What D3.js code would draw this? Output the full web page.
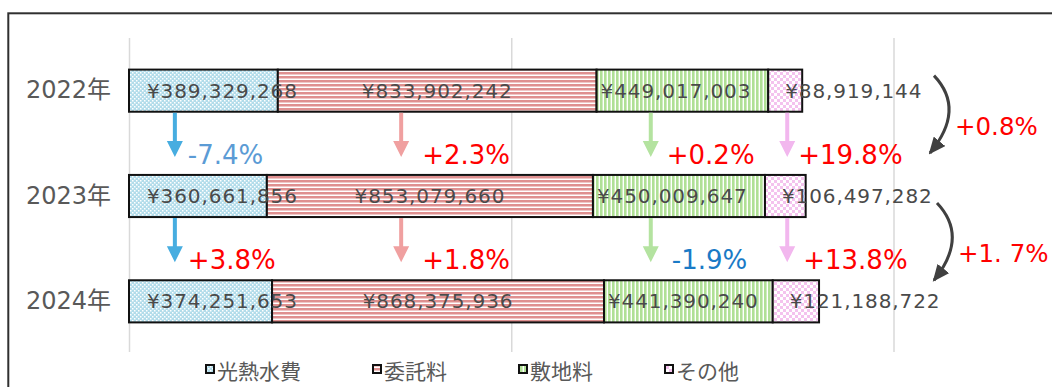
<!DOCTYPE html>
<html>
<head>
<meta charset="utf-8">
<script src="https://cdn.jsdelivr.net/npm/d3@7"></script>
<style>
  body { margin: 0; background: #fff; }
  svg { display: block; }
  text { font-family: "DejaVu Sans", "Noto Sans CJK JP", sans-serif; }
</style>
</head>
<body>
<script>
// Annual cost breakdown (yen), one stacked bar per year
const years = ["2022年", "2023年", "2024年"];
const seriesNames = ["光熱水費", "委託料", "敷地料", "その他"];
const utilities  = [389329268, 360661856, 374251653];
const commission = [833902242, 853079660, 868375936];
const siteRent   = [449017003, 450009647, 441390240];
const other      = [88919144, 106497282, 121188722];
const xTicks = [0, 1e9, 2e9];

// Year-over-year change per item (rows: 2022→2023, 2023→2024)
const itemChange = [
  ["-7.4%", "+2.3%", "+0.2%", "+19.8%"],
  ["+3.8%", "+1.8%", "-1.9%", "+13.8%"]
];
// Year-over-year change of the total
const totalChange = ["+0.8%", "+1. 7%"];

const W = 1052, H = 387;
const svg = d3.select("body").append("svg").attr("width", W).attr("height", H);

// ---- fill patterns ----
const defs = svg.append("defs");
const pat = (id, w, h) => defs.append("pattern").attr("id", id)
  .attr("patternUnits", "userSpaceOnUse").attr("width", w).attr("height", h);

const pBlue = pat("pat0", 4, 4);
pBlue.append("rect").attr("width", 4).attr("height", 4).attr("fill", "#b2dcea");
pBlue.append("rect").attr("x", 0).attr("y", 0).attr("width", 1.5).attr("height", 1.5).attr("fill", "#ffffff");
pBlue.append("rect").attr("x", 2).attr("y", 2).attr("width", 1.5).attr("height", 1.5).attr("fill", "#ffffff");

const pRed = pat("pat1", 4, 4);
pRed.append("rect").attr("width", 4).attr("height", 4).attr("fill", "#ffffff");
pRed.append("rect").attr("y", 0).attr("width", 4).attr("height", 2.5).attr("fill", "#df9090");

const pGreen = pat("pat2", 4, 4);
pGreen.append("rect").attr("width", 4).attr("height", 4).attr("fill", "#ffffff");
pGreen.append("rect").attr("x", 0).attr("width", 2.6).attr("height", 4).attr("fill", "#b0e096");

const pPink = pat("pat3", 6, 6);
pPink.append("rect").attr("width", 6).attr("height", 6).attr("fill", "#ffffff");
pPink.append("rect").attr("x", 0).attr("y", 0).attr("width", 3).attr("height", 3).attr("fill", "#f4c3ee");
pPink.append("rect").attr("x", 3).attr("y", 3).attr("width", 3).attr("height", 3).attr("fill", "#f4c3ee");

const fillOf = d3.scaleOrdinal().domain(seriesNames).range(["url(#pat0)", "url(#pat1)", "url(#pat2)", "url(#pat3)"]);
const arrowColor = d3.scaleOrdinal().domain(seriesNames).range(["#47ade0", "#f0a0a0", "#b4e3a0", "#f2b7ee"]);

// curved-arrow head
defs.append("marker").attr("id", "head")
  .attr("markerUnits", "userSpaceOnUse")
  .attr("viewBox", "0 0 17 15").attr("refX", 15).attr("refY", 7.5)
  .attr("markerWidth", 17).attr("markerHeight", 15)
  .attr("orient", "auto")
  .append("path").attr("d", "M0,0 L17,7.5 L0,15 Z").attr("fill", "#404040");

// ---- chart frame ----
svg.append("rect").attr("x", 8.3).attr("y", 13.3).attr("width", 1100).attr("height", 420)
  .attr("fill", "none").attr("stroke", "#303030").attr("stroke-width", 2);

// ---- scales ----
const x = d3.scaleLinear().domain([0, 2e9]).range([129, 893.5]);
const y = d3.scaleBand().domain(years).range([38, 354]).paddingInner(0.6).paddingOuter(0.3);

// vertical gridlines
const grid = svg.append("g").attr("transform", "translate(0,352)")
  .call(d3.axisTop(x).tickValues(xTicks).tickSize(314).tickFormat(""));
grid.select(".domain").remove();
grid.selectAll(".tick line").attr("stroke", "#d9d9d9").attr("stroke-width", 1.5);

// year labels
const yAxis = svg.append("g").attr("transform", `translate(${x(0)},0)`)
  .call(d3.axisLeft(y).tickSize(0).tickPadding(18));
yAxis.select(".domain").remove();
yAxis.selectAll("text").attr("fill", "#595959").style("font-size", "24px")
  .style("font-family", "\"DejaVu Sans\", \"Noto Sans CJK JP\", sans-serif");

// ---- stacked bars ----
const table = years.map((yr, i) => ({
  year: yr,
  "光熱水費": utilities[i], "委託料": commission[i], "敷地料": siteRent[i], "その他": other[i]
}));
const stacked = d3.stack().keys(seriesNames)(table);

const layers = svg.append("g").selectAll("g").data(stacked).join("g")
  .attr("fill", d => fillOf(d.key));
layers.selectAll("rect").data(d => d).join("rect")
  .attr("x", d => x(d[0]))
  .attr("y", d => y(d.data.year))
  .attr("width", d => x(d[1]) - x(d[0]))
  .attr("height", y.bandwidth())
  .attr("stroke", "#111").attr("stroke-width", 2);

// value labels
const fmt = d3.format(",");
const labelInset = [18, null, 4, 17];   // null: centred in segment
const valueLabels = svg.append("g");
stacked.forEach((layer, si) => {
  layer.forEach(d => {
    const centred = labelInset[si] === null;
    valueLabels.append("text")
      .attr("x", centred ? (x(d[0]) + x(d[1])) / 2 : x(d[0]) + labelInset[si])
      .attr("y", y(d.data.year) + y.bandwidth() / 2)
      .attr("text-anchor", centred ? "middle" : "start")
      .attr("dominant-baseline", "central")
      .attr("fill", "#4a4a4a").style("font-size", "20px")
      .style("letter-spacing", "0.9px")
      .text("¥" + fmt(d[1] - d[0]));
  });
});

// ---- per-item change arrows ----
const arrowAt = [1.2e8, 7.12e8, 1.365e9, 1.722e9];   // along the value axis
const pctInset = [[13, 21, 16, 11], [13, 21, 21, 16]];
const negColors = ["#5b9bd5", "#1a7ac6"];

const changes = svg.append("g");
itemChange.forEach((row, ri) => {
  const top = y(years[ri]) + y.bandwidth() + 1;
  const tip = y(years[ri + 1]) - 18;
  row.forEach((txt, si) => {
    const ax = x(arrowAt[si]);
    const col = arrowColor(seriesNames[si]);
    const hw = 8, hl = 16, sw = 2;
    changes.append("path")
      .attr("d", `M${ax - sw},${top} L${ax + sw},${top} L${ax + sw},${tip - hl} L${ax + hw},${tip - hl} L${ax},${tip} L${ax - hw},${tip - hl} L${ax - sw},${tip - hl} Z`)
      .attr("fill", col);
    changes.append("text")
      .attr("x", ax + pctInset[ri][si])
      .attr("y", tip - 2)
      .attr("dominant-baseline", "central")
      .attr("fill", txt.startsWith("-") ? negColors[ri] : "#ff0000")
      .style("font-size", "26px")
      .text(txt);
  });
});

// ---- total change arrows ----
const totalArrowLayout = [
  { from: years[0], to: years[1], startDy: 6, endDy: -22, startDx: 40.5, endDx: 36.5 },
  { from: years[1], to: years[2], startDy: 28, endDy: 0, startDx: 43.5, endDx: 40.5 }
];
totalArrowLayout.forEach((a, i) => {
  const x0 = x(2e9) + a.startDx, y0 = y(a.from) + a.startDy;
  const x1 = x(2e9) + a.endDx, y1 = y(a.to) + a.endDy;
  const cx = x0 + 32, cy = (y0 + y1) / 2 - 5;
  svg.append("path")
    .attr("d", `M${x0},${y0} Q${cx},${cy} ${x1},${y1}`)
    .attr("fill", "none").attr("stroke", "#404040").attr("stroke-width", 3)
    .attr("marker-end", "url(#head)");
  svg.append("text")
    .attr("x", x0 + 21)
    .attr("y", (y0 + y1) / 2 + 12)
    .attr("dominant-baseline", "central")
    .attr("fill", "#ff0000").style("font-size", "24.5px")
    .text(totalChange[i]);
});

// ---- legend ----
const legend = svg.append("g");
let lx = 205;
seriesNames.forEach(name => {
  legend.append("rect").attr("x", lx + 1).attr("y", 365).attr("width", 8).attr("height", 8)
    .attr("fill", fillOf(name)).attr("stroke", "#111").attr("stroke-width", 2);
  const t = legend.append("text").attr("x", lx + 12).attr("y", 370)
    .attr("dominant-baseline", "central")
    .attr("fill", "#595959")
    .style("font-family", "\"Noto Sans CJK JP\", sans-serif")
    .style("font-size", "21px")
    .text(name);
  lx += 12 + t.node().getComputedTextLength() + 71;
});
</script>
</body>
</html>
